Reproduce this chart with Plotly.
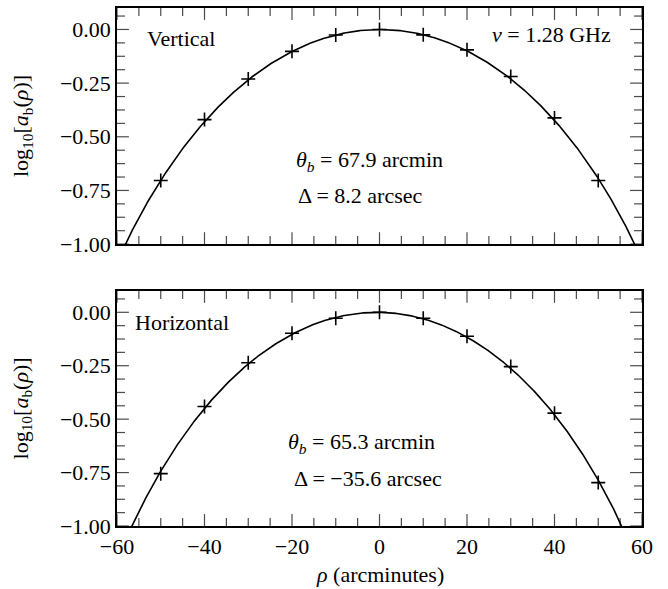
import numpy as np
import plotly.graph_objects as go
from plotly.subplots import make_subplots

# ---- data ----
rho_pts = [-50, -40, -30, -20, -10, 0, 10, 20, 30, 40, 50]
vert_log_a = [-0.704, -0.420, -0.231, -0.102, -0.026, 0.000, -0.025, -0.095, -0.219, -0.412, -0.704]
horiz_log_a = [-0.755, -0.441, -0.236, -0.098, -0.028, 0.000, -0.028, -0.112, -0.254, -0.472, -0.797]

# fitted beam parameters (from the panel annotations)
theta_b_vert = 67.9   # arcmin
delta_vert = 8.2      # arcsec
theta_b_horiz = 65.3  # arcmin
delta_horiz = -35.6   # arcsec
freq_ghz = 1.28

# tick labels (major ticks); plotly writes negatives with the U+2212 minus sign
x_tickvals = [-60, -40, -20, 0, 20, 40, 60]
y_tickvals = [-1.0, -0.75, -0.5, -0.25, 0.0]
y_tickformat = ".2f"
y_top = 0.1


def cosine_beam_log10(rho, theta_b, delta_arcsec):
    """MeerKAT cosine-tapered beam model, log10 of power response."""
    u = 1.189 * (rho - delta_arcsec / 60.0) / theta_b
    with np.errstate(divide="ignore", invalid="ignore"):
        f = np.cos(np.pi * u) / (1.0 - 4.0 * u ** 2)
    f = np.where(np.abs(1.0 - 4.0 * u ** 2) < 1e-9, np.pi / 4.0, f)
    return np.log10(f ** 2)


rho_model = np.linspace(-60, 60, 1201)

FONT = "Liberation Serif, DejaVu Serif, serif"
FS = 22

x_dtick = x_tickvals[1] - x_tickvals[0]
y_dtick = y_tickvals[1] - y_tickvals[0]
x_lo, x_hi = x_tickvals[0], x_tickvals[-1]
y_lo = y_tickvals[0]

# inside tick marks drawn as edge-clipped line markers (half of each marker lies inside)
MAJ, MIN = 17, 11.4
xt = np.arange(x_lo, x_hi + 1e-9, x_dtick / 4)
xt_size = [MAJ if abs(v / x_dtick - round(v / x_dtick)) < 1e-9 else MIN for v in xt]
yt = np.arange(y_lo, y_top + 1e-9, y_dtick / 4)
yt_size = [MAJ if abs(v / y_dtick - round(v / y_dtick)) < 1e-9 else MIN for v in yt]

fig = make_subplots(rows=2, cols=1, vertical_spacing=0.0)

panels = [
    (1, vert_log_a, theta_b_vert, delta_vert),
    (2, horiz_log_a, theta_b_horiz, delta_horiz),
]
for row, pts, tb, dl in panels:
    fig.add_trace(go.Scatter(x=rho_model, y=cosine_beam_log10(rho_model, tb, dl),
                             mode="lines", line=dict(color="black", width=1.6),
                             showlegend=False), row=row, col=1)
    fig.add_trace(go.Scatter(x=rho_pts, y=pts, mode="markers",
                             marker=dict(symbol="cross-thin", size=10,
                                         line=dict(color="black", width=1.6)),
                             showlegend=False), row=row, col=1)
    # x ticks on bottom and top edges
    fig.add_trace(go.Scatter(x=list(xt) * 2, y=[y_lo] * len(xt) + [y_top] * len(xt),
                             mode="markers", cliponaxis=True, hoverinfo="skip",
                             marker=dict(symbol="line-ns", size=xt_size * 2, color="black",
                                         line=dict(color="black", width=1.2)),
                             showlegend=False), row=row, col=1)
    # y ticks on left and right edges
    fig.add_trace(go.Scatter(x=[x_lo] * len(yt) + [x_hi] * len(yt), y=list(yt) * 2,
                             mode="markers", cliponaxis=True, hoverinfo="skip",
                             marker=dict(symbol="line-ew", size=yt_size * 2, color="black",
                                         line=dict(color="black", width=1.2)),
                             showlegend=False), row=row, col=1)

base = dict(showline=True, linecolor="black", linewidth=1.5, mirror=True,
            ticks="", showgrid=False, zeroline=False,
            tickfont=dict(family=FONT, size=FS, color="black"))

for row in (1, 2):
    fig.update_xaxes(range=[x_lo, x_hi], dtick=x_dtick,
                     showticklabels=(row == 2), row=row, col=1, **base)
    fig.update_yaxes(range=[y_lo, y_top], dtick=y_dtick, tickformat=y_tickformat,
                     row=row, col=1, **base)

fig.update_layout(
    width=668, height=589,
    margin=dict(l=117, r=26, t=6, b=63),
    paper_bgcolor="white", plot_bgcolor="white",
    font=dict(family=FONT, size=FS, color="black"),
    yaxis=dict(domain=[0.5442, 1.0]),
    yaxis2=dict(domain=[0.0, 0.4538]),
)

ann_font = dict(family=FONT, size=FS, color="black")
annotations = [
    ("x", "y", -53.6, -0.042, "left", "Vertical"),
    ("x", "y", 53.4, -0.025, "right", "<i>\u03bd</i> = %.2f GHz" % freq_ghz),
    ("x", "y", -19.5, -0.611, "left", "<i>\u03b8</i><sub><i>b</i></sub> = %.1f arcmin" % theta_b_vert),
    ("x", "y", -19.1, -0.774, "left", "\u0394 = %.1f arcsec" % delta_vert),
    ("x2", "y2", -56.3, -0.047, "left", "Horizontal"),
    ("x2", "y2", -21.4, -0.612, "left", "<i>\u03b8</i><sub><i>b</i></sub> = %.1f arcmin" % theta_b_horiz),
    ("x2", "y2", -20.0, -0.779, "left", "\u0394 = \u2212%.1f arcsec" % abs(delta_horiz)),
]
for xr, yr, xv, yv, xa, txt in annotations:
    fig.add_annotation(xref=xr, yref=yr, x=xv, y=yv, text=txt, showarrow=False,
                       xanchor=xa, yanchor="middle", font=ann_font)

# axis titles
ytitle = "log<sub>10</sub>[<i>a</i><sub>b</sub>(<i>\u03c1</i>)]"
fig.add_annotation(xref="paper", yref="paper", x=(22 - 117) / 525, y=(0.5442 + 1.0) / 2,
                   text=ytitle, textangle=-90,
                   showarrow=False, xanchor="center", yanchor="middle", font=ann_font)
fig.add_annotation(xref="paper", yref="paper", x=(22 - 117) / 525, y=0.4538 / 2,
                   text=ytitle, textangle=-90,
                   showarrow=False, xanchor="center", yanchor="middle", font=ann_font)
fig.add_annotation(xref="paper", yref="paper", x=(380 - 117) / 525, y=-(575 - 526) / 520,
                   text="<i>\u03c1</i> (arcminutes)",
                   showarrow=False, xanchor="center", yanchor="middle", font=ann_font)

fig.write_html("out.html", post_script="document.body.style.margin='0px';",
               config={"displayModeBar": False})
